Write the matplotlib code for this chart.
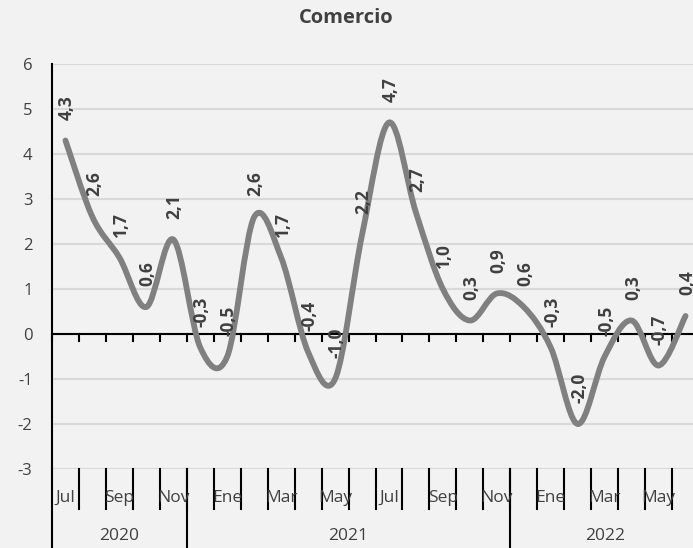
import numpy as np
import matplotlib.pyplot as plt
from matplotlib.path import Path
from matplotlib.patches import PathPatch

plt.rcParams['font.family'] = ['Open Sans', 'DejaVu Sans']
plt.rcParams['axes.unicode_minus'] = False

# data: monthly values Jul 2020 - Jun 2022
months = ['Jul', 'Ago', 'Sep', 'Oct', 'Nov', 'Dic', 'Ene', 'Feb', 'Mar', 'Abr', 'May', 'Jun',
          'Jul', 'Ago', 'Sep', 'Oct', 'Nov', 'Dic', 'Ene', 'Feb', 'Mar', 'Abr', 'May', 'Jun']
values = [4.3, 2.6, 1.7, 0.6, 2.1, -0.3, -0.5, 2.6, 1.7, -0.4, -1.0, 2.2,
          4.7, 2.7, 1.0, 0.3, 0.9, 0.6, -0.3, -2.0, -0.5, 0.3, -0.7, 0.4]
years = ['2020', '2021', '2022']
year_starts = [0, 5, 17]  # group boundaries as in the source sheet

bg = '#f2f2f2'
fig = plt.figure(figsize=(6.93, 5.48), dpi=100, facecolor=bg)
ax = fig.add_axes([52/693, 79/548, 647/693, 405/548], facecolor=bg)

x = np.arange(len(values))
y = np.array(values)

# smoothed line (Excel-style Bezier through the points)
verts = [(x[0], y[0])]
codes = [Path.MOVETO]
n = len(x)
for i in range(n - 1):
    p0 = np.array([x[max(i-1, 0)], y[max(i-1, 0)]])
    p1 = np.array([x[i], y[i]])
    p2 = np.array([x[i+1], y[i+1]])
    p3 = np.array([x[min(i+2, n-1)], y[min(i+2, n-1)]])
    c1 = p1 + (p2 - p0) / 6
    c2 = p2 - (p3 - p1) / 6
    verts += [tuple(c1), tuple(c2), tuple(p2)]
    codes += [Path.CURVE4] * 3
ax.add_patch(PathPatch(Path(verts, codes), facecolor='none', edgecolor='#808080',
                       lw=4.2, capstyle='round', joinstyle='round', zorder=3))

for xi, v in zip(x, values):
    ax.annotate(f'{v:.1f}'.replace('.', ','), (xi, v), xytext=(1, 15),
                textcoords='offset points', rotation=90, ha='center', va='bottom',
                fontsize=12.5, fontweight='bold', color='#404040', zorder=4,
                annotation_clip=False)

ax.set_xlim(-0.5, 23.5)
ax.set_ylim(-3, 6)
ax.set_yticks(range(-3, 7))
ax.set_yticklabels([str(t) for t in range(-3, 7)], fontsize=12, color='#404040')
ax.tick_params(axis='y', length=0, pad=14)
ax.set_xticks([])
ax.yaxis.grid(True, color='#d9d9d9', lw=1.5)
ax.set_axisbelow(True)
for s in ['top', 'right', 'bottom']:
    ax.spines[s].set_visible(False)
ax.spines['left'].set_color('black')
ax.spines['left'].set_linewidth(1.5)

# zero line with small ticks
ax.axhline(0, color='black', lw=1.5, zorder=2)
for b in np.arange(-0.5, 24, 1):
    ax.plot([b, b], [0, -0.16], color='black', lw=1.5, zorder=2, clip_on=False)

# category area below the plot
ax.plot([-0.5, -0.5], [-3, -4.8], color='black', lw=1.5, clip_on=False)
for b in np.arange(0.5, 24, 1):
    ax.plot([b, b], [-3, -3.89], color='black', lw=1.5, clip_on=False)
for s in year_starts[1:]:
    ax.plot([s - 0.5, s - 0.5], [-3, -4.8], color='black', lw=1.5, clip_on=False)
for i in range(0, 24, 2):
    ax.text(i, -3.64, months[i], ha='center', va='center', fontsize=12.5, color='#404040')
ends = year_starts[1:] + [24]
for yr, s, e in zip(years, year_starts, ends):
    ax.text((s + e - 1) / 2, -4.5, yr, ha='center', va='center', fontsize=12.5, color='#404040')

fig.text(0.5, 1 - 18/548, 'Comercio', ha='center', va='center', fontsize=14.5,
         fontweight='bold', color='#404040')

fig.savefig('out.png', dpi=100, facecolor=bg)
